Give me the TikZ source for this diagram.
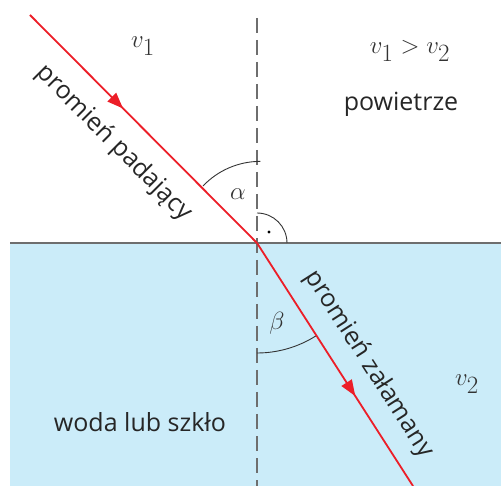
\documentclass[tikz,border=0pt]{standalone}
\usepackage{fontspec}
\setmainfont{Open Sans}
\usetikzlibrary{decorations.markings,arrows.meta}
\definecolor{water}{RGB}{203,236,249}
\definecolor{rayred}{RGB}{236,30,40}
\definecolor{axisgray}{RGB}{110,110,110}
\begin{document}
\begin{tikzpicture}[x=1pt,y=-1pt,
  ray/.style={draw=rayred,line width=1.8pt,
    postaction={decorate},
    decoration={markings,mark=at position #1 with {\arrow{Triangle[length=16pt,width=12pt,fill=rayred]}}}},
  lbl/.style={font=\fontsize{25}{30}\selectfont,text=black!85},
  mlbl/.style={font=\fontsize{33}{38}\selectfont,text=black!80},
  anglearc/.style={draw=black!80,line width=0.9pt}]
\useasboundingbox (0,0) rectangle (501,486);
\fill[water] (10,243) rectangle (501,486);
\coordinate (O) at (257,243);
\coordinate (L) at (10,243);
\coordinate (R) at (501,243);
\coordinate (T) at (257,18);
\coordinate (Bt) at (257,486);
\coordinate (A) at (30,15);
\coordinate (B) at (413,486);
\draw[axisgray,line width=1.8pt] (L) -- (R);
\draw[axisgray,line width=1.3pt,dash pattern=on 15pt off 7pt] (T) -- (Bt);
% angle arcs
\draw[anglearc] (203,186) arc[start angle=-136.5,end angle=-90,radius=79];
\draw[anglearc] (257,353) arc[start angle=90,end angle=57.3,radius=110];
\draw[anglearc] (257,213) arc[start angle=-90,end angle=0,radius=30];
\fill[black] (269,232) circle (1.6);
% rays
\draw[ray=0.41] (A) -- (O);
\draw[ray=0.63] (O) -- (B);
% labels
\node[mlbl] (v1) at (143,46) {$v_1$};
\node[mlbl] (v12) at (410,51) {$v_1 > v_2$};
\node[lbl] (air) at (401,104) {powietrze};
\node[mlbl] (alpha) at (238,194) {$\alpha$};
\node[mlbl] (beta) at (277,323) {$\beta$};
\node[mlbl] (v2) at (467,384) {$v_2$};
\node[lbl] (water) at (140,422) {woda lub szkło};
\node[lbl,rotate=-45] (inc) at (114,143) {promień padający};
\node[lbl,rotate=-57.3] (ref) at (369,364) {promień załamany};
\end{tikzpicture}
\end{document}
